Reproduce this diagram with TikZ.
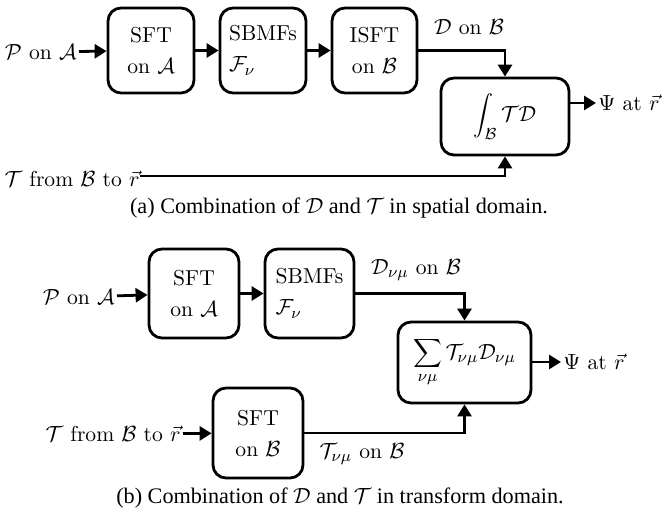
\documentclass[tikz,border=0pt]{standalone}
\usepackage{fontspec}
\newfontfamily\capfont{Liberation Serif}
\usetikzlibrary{arrows.meta}
\begin{document}
\begin{tikzpicture}[x=0.5pt,y=-0.5pt,
  every node/.style={font=\fontsize{10.8}{15.5}\selectfont},
  blk/.style={draw, line width=1.4pt, rounded corners=6.5pt, inner sep=2pt},
  lbl/.style={inner sep=1pt},
  conn/.style={line width=1.4pt},
  arr/.style={line width=1.4pt, -{Triangle[length=6pt,width=7pt]}},
  capt/.style={font=\capfont\fontsize{11.1}{13}\selectfont}]
\useasboundingbox (0,0) rectangle (665,515);
% ---------- (a) ----------
\node[lbl, anchor=east] (pA1) at (79,52) {$\mathcal{P}$ on $\mathcal{A}$};
\node[blk, align=center, minimum width=43pt, minimum height=42.5pt] (sft1) at (151,50.5) {SFT\\on $\mathcal{A}$};
\node[blk, align=left, minimum width=43pt, minimum height=42.5pt] (sbmf1) at (263,50.5) {SBMFs\\$\mathcal{F}_\nu$};
\node[blk, align=center, minimum width=42.5pt, minimum height=42.5pt] (isft1) at (374.5,50.5) {ISFT\\on $\mathcal{B}$};
\node[blk, minimum width=64pt, minimum height=38.5pt] (int) at (505,116.5) {$\displaystyle\int_{\mathcal{B}}\mathcal{T}\mathcal{D}$};
\node[lbl, anchor=west] (psi1) at (596,103) {$\Psi$ at $\vec{r}$};
\node[lbl] (dB1) at (469,27) {$\mathcal{D}$ on $\mathcal{B}$};
\node[inner sep=0pt, anchor=east] (tB1) at (140,179) {$\mathcal{T}$ from $\mathcal{B}$ to $\vec{r}$};
\coordinate (tB1e) at (140,176);
\draw[arr] (pA1) -- (sft1);
\draw[arr] (sft1) -- (sbmf1);
\draw[arr] (sbmf1) -- (isft1);
\draw[arr] (isft1.east) -| (int.north);
\draw[arr] (tB1e) -| (int.south);
\draw[arr] (int.east |- psi1.west) -- (psi1.west);
\node[capt] (capa) at (339,208) {(a) Combination of $\mathcal{D}$ and $\mathcal{T}$ in spatial domain.};
% ---------- (b) ----------
\node[lbl, anchor=east] (pA2) at (117,297) {$\mathcal{P}$ on $\mathcal{A}$};
\node[blk, align=center, minimum width=45pt, minimum height=44.5pt] (sft2) at (194,293.5) {SFT\\on $\mathcal{A}$};
\node[blk, align=left, minimum width=44.5pt, minimum height=44.5pt] (sbmf2) at (309.5,293.5) {SBMFs\\$\mathcal{F}_\nu$};
\node[lbl] (dB2) at (416,270) {$\mathcal{D}_{\nu\mu}$ on $\mathcal{B}$};
\node[blk, minimum width=66.5pt, minimum height=40.5pt] (sum) at (464.5,362.5) {$\displaystyle\sum_{\nu\mu}\mathcal{T}_{\nu\mu}\mathcal{D}_{\nu\mu}$};
\node[lbl, anchor=west] (psi2) at (561,362) {$\Psi$ at $\vec{r}$};
\node[blk, align=center, minimum width=45pt, minimum height=45pt] (sft3) at (258,433) {SFT\\on $\mathcal{B}$};
\node[lbl, anchor=east] (tB2) at (183,434) {$\mathcal{T}$ from $\mathcal{B}$ to $\vec{r}$};
\node[lbl] (tB3) at (362,454) {$\mathcal{T}_{\nu\mu}$ on $\mathcal{B}$};
\draw[arr] (pA2) -- (sft2);
\draw[arr] (sft2) -- (sbmf2);
\draw[arr] (sbmf2.east) -| (sum.north);
\draw[arr] (tB2) -- (sft3);
\draw[arr] (sft3.east) -| (sum.south);
\draw[arr] (sum.east |- psi2.west) -- (psi2.west);
\node[capt] (capb) at (340,498) {(b) Combination of $\mathcal{D}$ and $\mathcal{T}$ in transform domain.};
\end{tikzpicture}
\end{document}
